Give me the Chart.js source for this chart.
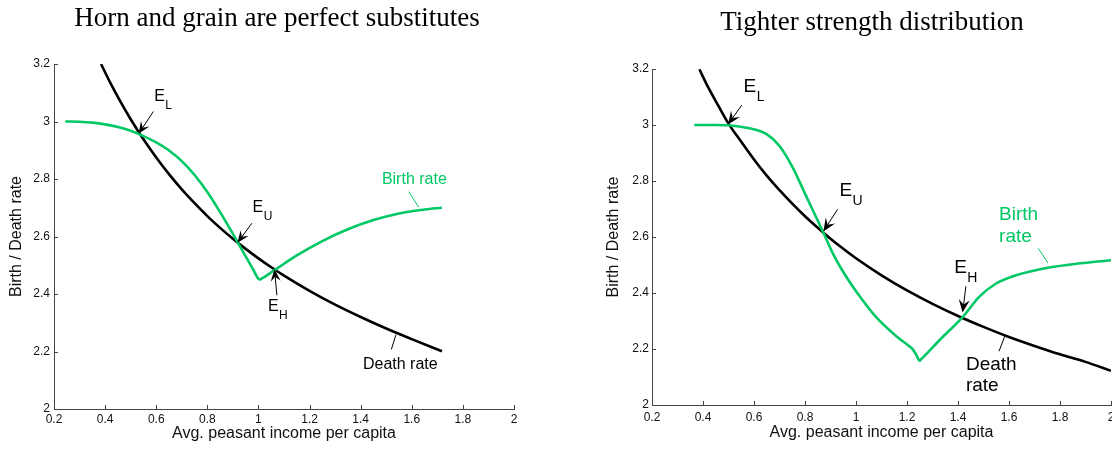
<!DOCTYPE html>
<html><head><meta charset="utf-8">
<script src="https://cdn.jsdelivr.net/npm/chart.js@4.4.1/dist/chart.umd.min.js"></script>
<style>
html,body{margin:0;padding:0;background:#fff;overflow:hidden;width:1112px;height:449px;}
#wrapL{position:absolute;left:0;top:0;width:560px;height:449px;}
#wrapR{position:absolute;left:560px;top:0;width:580px;height:449px;}
canvas{display:block;}
</style></head><body>
<div id="wrapL"><canvas id="cL" width="560" height="449"></canvas></div>
<div id="wrapR"><canvas id="cR" width="580" height="449"></canvas></div>
<script>
// ---------- data ----------
const xTickValues = [0.2, 0.4, 0.6, 0.8, 1.0, 1.2, 1.4, 1.6, 1.8, 2.0];
const xTickLabels = ['0.2', '0.4', '0.6', '0.8', '1', '1.2', '1.4', '1.6', '1.8', '2'];
const yTickValues = [2.0, 2.2, 2.4, 2.6, 2.8, 3.0, 3.2];
const yTickLabels = ['2', '2.2', '2.4', '2.6', '2.8', '3', '3.2'];

const leftTitle = 'Horn and grain are perfect substitutes';
const rightTitle = 'Tighter strength distribution';
const xAxisTitle = 'Avg. peasant income per capita';
const yAxisTitle = 'Birth / Death rate';

const leftDeathX = [0.384, 0.42, 0.46, 0.50, 0.55, 0.60, 0.65, 0.70, 0.75, 0.80, 0.85, 0.90, 0.95, 1.00, 1.05, 1.10, 1.20, 1.30, 1.40, 1.50, 1.60, 1.718];
const leftDeathY = [3.200, 3.135, 3.069, 3.008, 2.938, 2.875, 2.817, 2.764, 2.716, 2.671, 2.630, 2.592, 2.557, 2.524, 2.493, 2.464, 2.411, 2.363, 2.320, 2.280, 2.243, 2.201];
const leftBirthX = [0.244, 0.30, 0.35, 0.40, 0.45, 0.50, 0.531, 0.60, 0.65, 0.70, 0.75, 0.80, 0.85, 0.90, 0.95, 0.98, 1.000, 1.006, 1.015, 1.063, 1.15, 1.25, 1.35, 1.45, 1.55, 1.65, 1.718];
const leftBirthY = [3.000, 2.999, 2.996, 2.990, 2.981, 2.968, 2.957, 2.927, 2.899, 2.862, 2.814, 2.755, 2.685, 2.609, 2.531, 2.484, 2.453, 2.451, 2.455, 2.483, 2.534, 2.584, 2.625, 2.657, 2.680, 2.694, 2.700];

const rightDeathX = [0.386, 0.42, 0.46, 0.50, 0.55, 0.60, 0.65, 0.70, 0.75, 0.80, 0.85, 0.90, 0.95, 1.00, 1.10, 1.20, 1.30, 1.40, 1.50, 1.60, 1.70, 1.80, 1.90, 2.00];
const rightDeathY = [3.199, 3.135, 3.069, 3.005, 2.940, 2.877, 2.819, 2.767, 2.719, 2.674, 2.633, 2.594, 2.558, 2.524, 2.463, 2.409, 2.361, 2.318, 2.279, 2.243, 2.211, 2.181, 2.154, 2.122];
const rightBirthX = [0.366, 0.45, 0.50, 0.582, 0.648, 0.70, 0.752, 0.805, 0.870, 0.91, 0.95, 0.996, 1.079, 1.162, 1.21, 1.224, 1.236, 1.244, 1.249, 1.255, 1.33, 1.418, 1.483, 1.548, 1.627, 1.757, 1.88, 2.0];
const rightBirthY = [3.000, 3.000, 2.999, 2.988, 2.968, 2.925, 2.848, 2.745, 2.620, 2.540, 2.475, 2.412, 2.314, 2.243, 2.209, 2.197, 2.180, 2.165, 2.158, 2.163, 2.234, 2.314, 2.386, 2.433, 2.463, 2.491, 2.506, 2.517];

// equilibrium markers (data coordinates): arrow tip, arrow tail, label anchor
const leftMarkerSubs  = ['L', 'U', 'H'];
const leftMarkerTips  = [[0.531, 2.957], [0.918, 2.578], [1.063, 2.486]];
const leftMarkerTails = [[0.589, 3.035], [0.974, 2.646], [1.072, 2.396]];
const leftMarkerTexts = [[0.592, 3.072], [0.977, 2.686], [1.037, 2.340]];
const rightMarkerSubs  = ['L', 'U', 'H'];
const rightMarkerTips  = [[0.498, 3.002], [0.872, 2.620], [1.418, 2.330]];
const rightMarkerTails = [[0.552, 3.071], [0.928, 2.699], [1.431, 2.424]];
const rightMarkerTexts = [[0.559, 3.119], [0.935, 2.746], [1.385, 2.471]];

// curve labels (data coordinates)
const leftBirthLabel = ['Birth rate'];
const leftBirthLabelAt = [[1.483, 2.783]];
const leftBirthLeader = [[1.588, 2.756], [1.627, 2.702]];
const leftDeathLabel = ['Death rate'];
const leftDeathLabelAt = [[1.409, 2.138]];
const leftDeathLeader = [[1.520, 2.207], [1.538, 2.258]];

const rightBirthLabel = ['Birth', 'rate'];
const rightBirthLabelAt = [[1.561, 2.660], [1.561, 2.582]];
const rightBirthLeader = [[1.715, 2.559], [1.753, 2.507]];
const rightDeathLabel = ['Death', 'rate'];
const rightDeathLabelAt = [[1.431, 2.126], [1.431, 2.049]];
const rightDeathLeader = [[1.561, 2.192], [1.585, 2.250]];

// ---------- styles ----------
const GREEN = 'rgb(0,200,100)';
const BLACK = '#000';
const AXIS = '#444';
const SANS = '"Liberation Sans", Arial, Helvetica, sans-serif';
const SERIF = '"Liberation Serif", "Times New Roman", serif';

function pts(xs, ys) { return xs.map((x, i) => ({x: x, y: ys[i]})); }

function arrow(ctx, from, to, head, half) {
  const dx = to[0] - from[0], dy = to[1] - from[1];
  const L = Math.hypot(dx, dy), ux = dx / L, uy = dy / L;
  const bx = to[0] - ux * head, by = to[1] - uy * head;
  ctx.beginPath();
  ctx.moveTo(from[0], from[1]);
  ctx.lineTo(to[0] - ux * head * 0.6, to[1] - uy * head * 0.6);
  ctx.stroke();
  ctx.beginPath();
  ctx.moveTo(to[0], to[1]);
  ctx.lineTo(bx - uy * half, by + ux * half);
  ctx.lineTo(to[0] - ux * head * 0.62, to[1] - uy * head * 0.62);
  ctx.lineTo(bx + uy * half, by - ux * half);
  ctx.closePath();
  ctx.fill();
}

const decor = {
  id: 'decor',
  afterDraw(chart, args, o) {
    const ctx = chart.ctx, xs = chart.scales.x, ys = chart.scales.y, ca = chart.chartArea;
    const P = p => [xs.getPixelForValue(p[0]), ys.getPixelForValue(p[1])];
    ctx.save();
    // inward tick marks
    ctx.strokeStyle = AXIS; ctx.lineWidth = 1;
    ctx.beginPath();
    xs.ticks.forEach(t => {
      const p = Math.round(xs.getPixelForValue(t.value)) + 0.5;
      ctx.moveTo(p, ca.bottom); ctx.lineTo(p, ca.bottom - o.tickLen);
    });
    ys.ticks.forEach(t => {
      const p = Math.round(ys.getPixelForValue(t.value)) + 0.5;
      ctx.moveTo(ca.left, p); ctx.lineTo(ca.left + o.tickLen, p);
    });
    ctx.stroke();
    // chart heading
    ctx.fillStyle = BLACK;
    ctx.font = o.titleSize + 'px ' + SERIF;
    ctx.textAlign = 'center'; ctx.textBaseline = 'middle';
    ctx.fillText(o.title, o.titleX, o.titleY);
    // equilibrium markers
    ctx.textAlign = 'left'; ctx.textBaseline = 'alphabetic';
    ctx.strokeStyle = BLACK; ctx.lineWidth = 1;
    o.subs.forEach((s, i) => {
      arrow(ctx, P(o.tails[i]), P(o.tips[i]), o.head, o.half);
      const t = P(o.texts[i]);
      ctx.font = o.labelSize + 'px ' + SANS;
      ctx.fillText('E', t[0], t[1]);
      const w = ctx.measureText('E').width;
      ctx.font = o.subSize + 'px ' + SANS;
      ctx.fillText(s, t[0] + w + 0.5, t[1] + o.subDrop);
    });
    // curve labels
    const drawLabel = (lines, at, leader, color) => {
      ctx.fillStyle = color; ctx.strokeStyle = color;
      ctx.font = o.labelSize + 'px ' + SANS;
      lines.forEach((l, i) => { const p = P(at[i]); ctx.fillText(l, p[0], p[1]); });
      const a = P(leader[0]), b = P(leader[1]);
      ctx.beginPath(); ctx.moveTo(a[0], a[1]); ctx.lineTo(b[0], b[1]); ctx.stroke();
    };
    drawLabel(o.birthLabel, o.birthAt, o.birthLeader, GREEN);
    drawLabel(o.deathLabel, o.deathAt, o.deathLeader, BLACK);
    ctx.restore();
  }
};

function makeChart(id, cfg) {
  return new Chart(document.getElementById(id), {
    type: 'line',
    data: {
      datasets: [
        {label: 'Birth rate', data: pts(cfg.birthX, cfg.birthY), borderColor: GREEN, borderWidth: 2.6,
         pointRadius: 0, fill: false, cubicInterpolationMode: 'monotone'},
        {label: 'Death rate', data: pts(cfg.deathX, cfg.deathY), borderColor: BLACK, borderWidth: 2.6,
         pointRadius: 0, fill: false, cubicInterpolationMode: 'monotone'}
      ]
    },
    options: {
      responsive: false, animation: false, devicePixelRatio: 1,
      layout: {padding: cfg.pad},
      plugins: {legend: {display: false}, tooltip: {enabled: false}, title: {display: false},
        decor: cfg.decor},
      scales: {
        x: {
          type: 'linear', min: 0.2, max: 2.0,
          afterFit: s => { s.height = cfg.xH; },
          afterBuildTicks: s => { s.ticks = xTickValues.map(v => ({value: v})); },
          grid: {display: false, drawTicks: false},
          border: {display: true, color: AXIS, width: 1},
          ticks: {color: '#111', font: {family: SANS, size: cfg.tickSize}, padding: cfg.xTickPad,
            maxRotation: 0, autoSkip: false, callback: (v, i) => xTickLabels[i]},
          title: {display: true, text: xAxisTitle, color: '#111', font: {family: SANS, size: 16},
            padding: {top: 0, bottom: cfg.xTitlePad}}
        },
        y: {
          type: 'linear', min: 2.0, max: 3.2,
          afterFit: s => { s.width = cfg.yW; },
          afterBuildTicks: s => { s.ticks = yTickValues.map(v => ({value: v})); },
          grid: {display: false, drawTicks: false},
          border: {display: true, color: AXIS, width: 1},
          ticks: {color: '#111', font: {family: SANS, size: cfg.tickSize}, padding: cfg.yTickPad,
            autoSkip: false, callback: (v, i) => yTickLabels[i]},
          title: {display: true, text: yAxisTitle, color: '#111', font: {family: SANS, size: 16},
            padding: {top: cfg.yTitlePad, bottom: 0}}
        }
      }
    },
    plugins: [decor]
  });
}

makeChart('cL', {
  birthX: leftBirthX, birthY: leftBirthY, deathX: leftDeathX, deathY: leftDeathY,
  pad: {left: 0, right: 46, top: 64, bottom: 0}, xH: 40, yW: 54,
  tickSize: 12, xTickPad: 3.5, yTickPad: 4, xTitlePad: 6, yTitlePad: 7,
  decor: {
    tickLen: 4, title: leftTitle, titleSize: 27, titleX: 277, titleY: 19,
    subs: leftMarkerSubs, tips: leftMarkerTips, tails: leftMarkerTails, texts: leftMarkerTexts,
    labelSize: 16, subSize: 12, subDrop: 8, head: 12, half: 5,
    birthLabel: leftBirthLabel, birthAt: leftBirthLabelAt, birthLeader: leftBirthLeader,
    deathLabel: leftDeathLabel, deathAt: leftDeathLabelAt, deathLeader: leftDeathLeader
  }
});

makeChart('cR', {
  birthX: rightBirthX, birthY: rightBirthY, deathX: rightDeathX, deathY: rightDeathY,
  pad: {left: 0, right: 29, top: 69, bottom: 0}, xH: 44, yW: 92,
  tickSize: 12, xTickPad: 5.5, yTickPad: 3, xTitlePad: 7, yTitlePad: 44,
  decor: {
    tickLen: 4, title: rightTitle, titleSize: 27, titleX: 312, titleY: 23,
    subs: rightMarkerSubs, tips: rightMarkerTips, tails: rightMarkerTails, texts: rightMarkerTexts,
    labelSize: 19, subSize: 14, subDrop: 9, head: 13, half: 5.5,
    birthLabel: rightBirthLabel, birthAt: rightBirthLabelAt, birthLeader: rightBirthLeader,
    deathLabel: rightDeathLabel, deathAt: rightDeathLabelAt, deathLeader: rightDeathLeader
  }
});
</script>
</body></html>
